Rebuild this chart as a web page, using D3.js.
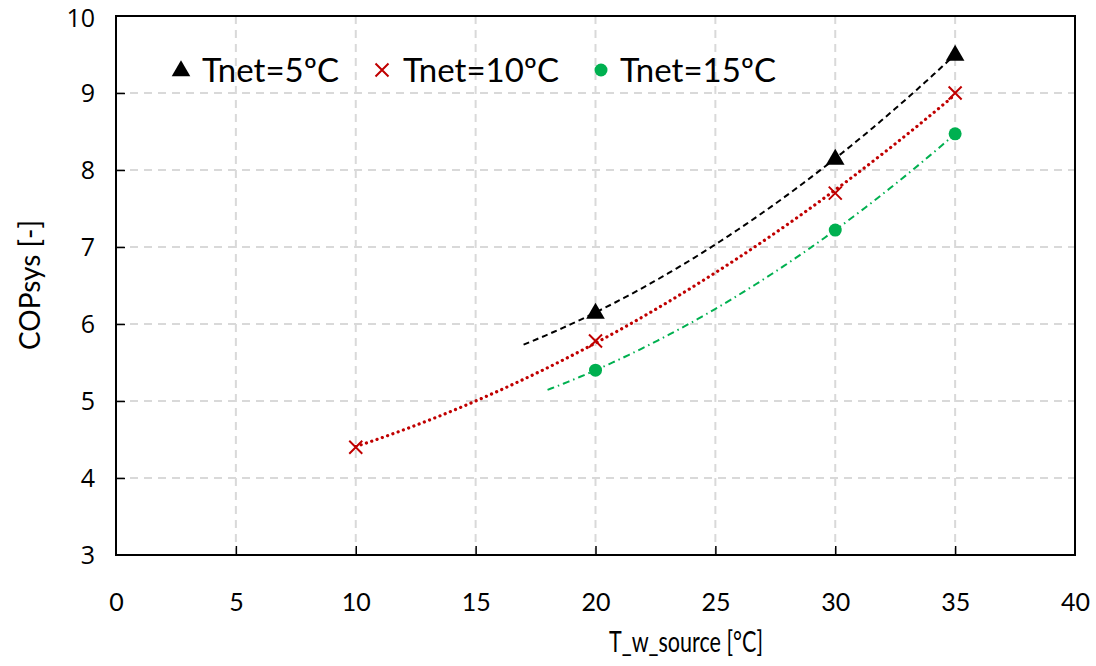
<!DOCTYPE html>
<html>
<head>
<meta charset="utf-8">
<script src="https://cdn.jsdelivr.net/npm/d3@7"></script>
<style>
  body { margin: 0; background: #fff; }
  svg text { font-family: Lato, "Open Sans", sans-serif; fill: #000; }
</style>
</head>
<body>
<div id="chart"></div>
<script>
// 数据
const xTicks = [0, 5, 10, 15, 20, 25, 30, 35, 40];
const yTicks = [3, 4, 5, 6, 7, 8, 9, 10];

const seriesNames = ["Tnet=5ºC", "Tnet=10ºC", "Tnet=15ºC"];
const tnet5x = [20, 30, 35];
const tnet5y = [6.15, 8.15, 9.5];
const tnet10x = [10, 20, 30, 35];
const tnet10y = [4.4, 5.78, 7.7, 9.0];
const tnet15x = [20, 30, 35];
const tnet15y = [5.4, 7.22, 8.47];
// trendline ranges (Excel polynomial trendline with forecast)
const trendRange = [[17, 35.2], [10, 35], [18, 35]];

const W = 1096, H = 666;
const margin = { left: 116, right: 21, top: 16, bottom: 111 };
const iw = W - margin.left - margin.right;
const ih = H - margin.top - margin.bottom;

const svg = d3.select("#chart").append("svg")
    .attr("width", W).attr("height", H);

const x = d3.scaleLinear().domain([0, 40]).range([0, iw]);
const y = d3.scaleLinear().domain([3, 10]).range([ih, 0]);

const g = svg.append("g").attr("transform", `translate(${margin.left},${margin.top})`);

// 网格
g.append("g").selectAll("line.gx")
    .data(xTicks.slice(1, -1)).enter().append("line")
    .attr("x1", d => x(d)).attr("x2", d => x(d))
    .attr("y1", 0).attr("y2", ih)
    .attr("stroke", "#d9d9d9").attr("stroke-width", 2)
    .attr("stroke-dasharray", "8,6");
g.append("g").selectAll("line.gy")
    .data(yTicks.slice(1, -1)).enter().append("line")
    .attr("x1", 0).attr("x2", iw)
    .attr("y1", d => y(d)).attr("y2", d => y(d))
    .attr("stroke", "#d9d9d9").attr("stroke-width", 2)
    .attr("stroke-dasharray", "8,6");

// 轴 (ticks inside)
const xAxis = g.append("g").attr("transform", `translate(0,${ih})`)
    .call(d3.axisBottom(x).tickValues(xTicks).tickFormat(d3.format("d"))
        .tickSizeInner(-9).tickSizeOuter(0).tickPadding(38));
const yAxis = g.append("g")
    .call(d3.axisLeft(y).tickValues(yTicks).tickFormat(d3.format("d"))
        .tickSizeInner(-9).tickSizeOuter(0).tickPadding(21));
[xAxis, yAxis].forEach(a => {
    a.select(".domain").remove();
    a.selectAll(".tick line").attr("stroke", "#000").attr("stroke-width", 1.5);
    a.selectAll(".tick text").attr("fill", "#000");
});
xAxis.selectAll(".tick text").style("font-size", "25px");
yAxis.selectAll(".tick text").style("font-size", "25px").style("font-family", "'Open Sans', sans-serif");
// keep the top label inside the picture
yAxis.selectAll(".tick text").filter(d => d === 10).attr("dy", "0.42em");
xAxis.selectAll(".tick line").filter(d => d === 0 || d === 40).remove();
yAxis.selectAll(".tick line").filter(d => d === 3 || d === 10).remove();

g.append("rect").attr("width", iw).attr("height", ih)
    .attr("fill", "none").attr("stroke", "#000").attr("stroke-width", 2);

// 趋势线: least-squares quadratic
function polyFit2(xs, ys) {
    const n = xs.length;
    let S = [0, 0, 0, 0, 0], T = [0, 0, 0];
    for (let i = 0; i < n; i++) {
        let p = 1;
        for (let k = 0; k < 5; k++) { S[k] += p; if (k < 3) T[k] += p * ys[i]; p *= xs[i]; }
    }
    const A = [[S[0], S[1], S[2], T[0]], [S[1], S[2], S[3], T[1]], [S[2], S[3], S[4], T[2]]];
    for (let c = 0; c < 3; c++) {
        for (let r = c + 1; r < 3; r++) {
            const f = A[r][c] / A[c][c];
            for (let k = c; k < 4; k++) A[r][k] -= f * A[c][k];
        }
    }
    const b = [0, 0, 0];
    for (let r = 2; r >= 0; r--) {
        let s = A[r][3];
        for (let k = r + 1; k < 3; k++) s -= A[r][k] * b[k];
        b[r] = s / A[r][r];
    }
    return v => b[0] + b[1] * v + b[2] * v * v;
}

const series = [
    { xs: tnet5x, ys: tnet5y, color: "#000000", dash: "6,4", cap: "butt", width: 2 },
    { xs: tnet10x, ys: tnet10y, color: "#c00000", dash: "0.1,5.5", cap: "round", width: 3.2 },
    { xs: tnet15x, ys: tnet15y, color: "#00b050", dash: "7,4,1.5,4", cap: "butt", width: 2 }
];

const line = d3.line().x(d => x(d[0])).y(d => y(d[1])).curve(d3.curveLinear);
series.forEach((s, i) => {
    const f = polyFit2(s.xs, s.ys);
    const [a, b] = trendRange[i];
    const pts = d3.range(0, 101).map(k => { const v = a + (b - a) * k / 100; return [v, f(v)]; });
    g.append("path").datum(pts).attr("d", line)
        .attr("fill", "none").attr("stroke", s.color)
        .attr("stroke-width", s.width).attr("stroke-dasharray", s.dash)
        .attr("stroke-linecap", s.cap);
});

// 标记
function drawMarker(sel, i, cx, cy) {
    if (i === 0) {
        sel.append("path").attr("d", d3.symbol(d3.symbolTriangle, 150)())
            .attr("transform", `translate(${cx},${cy + 1})`).attr("fill", "#000");
    } else if (i === 1) {
        const r = 6.5;
        sel.append("path").attr("d", `M${cx - r},${cy - r}L${cx + r},${cy + r}M${cx - r},${cy + r}L${cx + r},${cy - r}`)
            .attr("stroke", "#c00000").attr("stroke-width", 2).attr("fill", "none");
    } else {
        sel.append("circle").attr("cx", cx).attr("cy", cy).attr("r", 6.5).attr("fill", "#00b050");
    }
}
series.forEach((s, i) => {
    s.xs.forEach((v, k) => drawMarker(g, i, x(v), y(s.ys[k])));
});

// 图例
const legendX = [181, 382, 601];
const legendTextX = [202, 403, 620];
seriesNames.forEach((name, i) => {
    drawMarker(svg, i, legendX[i], 70);
    svg.append("text").attr("x", legendTextX[i]).attr("y", 82)
        .style("font-size", "33px").text(name);
});

// 轴标题
svg.append("text").attr("x", 686).attr("y", 652)
    .attr("text-anchor", "middle").style("font-size", "29px")
    .attr("textLength", 154).attr("lengthAdjust", "spacingAndGlyphs")
    .text("T_w_source  [°C]");
svg.append("text").attr("transform", `translate(40,285) rotate(-90)`)
    .attr("text-anchor", "middle").style("font-size", "28px").text("COPsys [-]");
</script>
</body>
</html>
